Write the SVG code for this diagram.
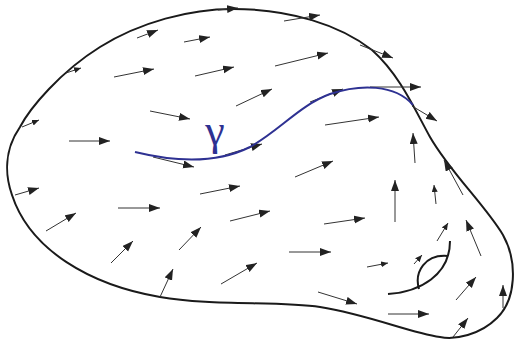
<svg xmlns="http://www.w3.org/2000/svg" width="515" height="341" viewBox="0 0 515 341">
<defs>
<marker id="ah" markerUnits="userSpaceOnUse" markerWidth="12" markerHeight="10" refX="11" refY="4" orient="auto"><path d="M0,0 L11,4 L0,8 Z" fill="#222"/></marker>
<marker id="as" markerUnits="userSpaceOnUse" markerWidth="8" markerHeight="8" refX="7" refY="3" orient="auto"><path d="M0,0 L7,3 L0,6 Z" fill="#222"/></marker>
</defs>
<style>
.bd{fill:none;stroke:#1a1a1a;stroke-width:2}
.a{stroke:#333;stroke-width:1;fill:none;marker-end:url(#ah)}
.s{stroke:#333;stroke-width:1;fill:none;marker-end:url(#as)}
.bl{fill:none;stroke:#2e3192;stroke-width:2}
.k{fill:none;stroke:#1a1a1a;stroke-width:2}
</style>
<g id="region">
<path class="bd" d="M233,9 C290,9 340,25 372,50 C400,75 415,110 430,137 C450,172 485,205 503,235 C518,262 516,300 497,318 C480,335 455,340 440,337 C410,333 370,315 320,307 C280,301 210,306 160,297 C90,285 30,250 12,195 C5,175 4,150 20,127 C30,108 60,72 100,47 C140,22 190,9 233,9 Z"/>
</g>
<g id="field">
<line class="a" x1="137" y1="38" x2="158" y2="30"/>
<line class="a" x1="184" y1="42" x2="210" y2="37"/>
<line class="s" x1="66" y1="73" x2="81" y2="68"/>
<line class="a" x1="114" y1="77" x2="154" y2="69"/>
<line class="a" x1="195" y1="76" x2="234" y2="67"/>
<line class="a" x1="236" y1="106" x2="272" y2="89"/>
<line class="a" x1="150" y1="111" x2="190" y2="119"/>
<line class="s" x1="22" y1="127" x2="39" y2="120"/>
<line class="a" x1="69" y1="141" x2="110" y2="141"/>
<line class="a" x1="153" y1="157" x2="194" y2="167"/>
<line class="a" x1="225" y1="155" x2="262" y2="144"/>
<line class="a" x1="218" y1="10" x2="238" y2="8"/>
<line class="a" x1="284" y1="21" x2="320" y2="15"/>
<line class="a" x1="360" y1="45" x2="393" y2="58"/>
<line class="a" x1="275" y1="66" x2="328" y2="53"/>
<line class="a" x1="310" y1="102" x2="343" y2="89"/>
<line class="a" x1="370" y1="87" x2="421" y2="87"/>
<line class="a" x1="412" y1="106" x2="437" y2="121"/>
<line class="a" x1="325" y1="125" x2="379" y2="117"/>
<line class="a" x1="415" y1="163" x2="413" y2="133"/>
<line class="a" x1="295" y1="177" x2="333" y2="161"/>
<line class="a" x1="463" y1="195" x2="444" y2="160"/>
<line class="a" x1="15" y1="195" x2="39" y2="188"/>
<line class="a" x1="46" y1="231" x2="76" y2="213"/>
<line class="a" x1="118" y1="208" x2="160" y2="208"/>
<line class="a" x1="111" y1="263" x2="133" y2="241"/>
<line class="a" x1="160" y1="297" x2="173" y2="269"/>
<line class="a" x1="179" y1="250" x2="201" y2="227"/>
<line class="a" x1="200" y1="194" x2="240" y2="186"/>
<line class="a" x1="230" y1="221" x2="270" y2="211"/>
<line class="a" x1="221" y1="284" x2="257" y2="263"/>
<line class="a" x1="395" y1="222" x2="395" y2="180"/>
<line class="s" x1="436" y1="204" x2="434" y2="185"/>
<line class="a" x1="324" y1="224" x2="365" y2="218"/>
<line class="a" x1="289" y1="252" x2="331" y2="252"/>
<line class="s" x1="367" y1="267" x2="388" y2="263"/>
<line class="s" x1="414" y1="264" x2="422" y2="255"/>
<line class="s" x1="437" y1="241" x2="448" y2="223"/>
<line class="a" x1="481" y1="256" x2="466" y2="220"/>
<line class="a" x1="456" y1="300" x2="476" y2="277"/>
<line class="a" x1="453" y1="337" x2="468" y2="318"/>
<line class="a" x1="503" y1="308" x2="503" y2="285"/>
<line class="a" x1="388" y1="314" x2="429" y2="314"/>
<line class="a" x1="318" y1="292" x2="357" y2="304"/>
</g>
<g id="curves">
<path class="bl" d="M135,152 C180,163 220,162 250,147 C280,130 300,105 330,94 C360,84 395,84 413,105"/>
<path class="k" d="M388,294 C420,292 450,275 450,241"/>
<path class="k" d="M419,289 C414,272 425,254 448,256"/>
</g>
<g id="label">
<text x="215" y="145" text-anchor="middle" font-family="Liberation Serif, serif" font-size="44" fill="#2e3192">γ</text>
</g>
</svg>
